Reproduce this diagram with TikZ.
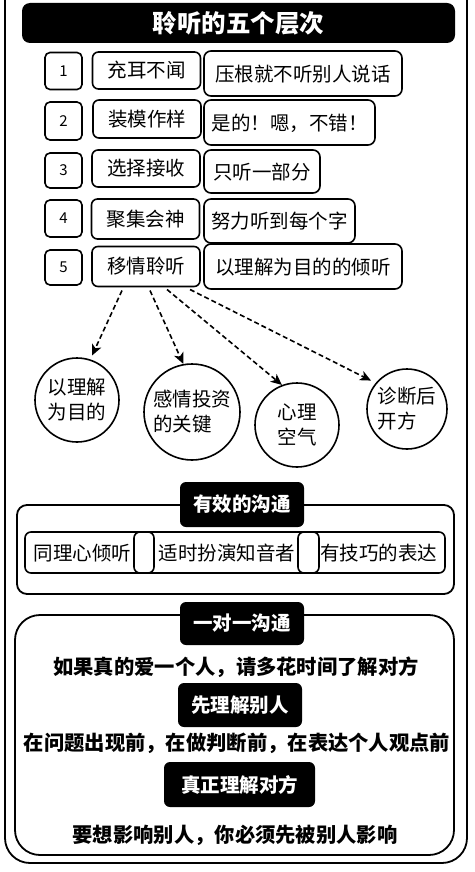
\documentclass[tikz,border=0pt]{standalone}
\usepackage{fontspec}
\setmainfont{Noto Sans CJK SC}
\usetikzlibrary{arrows.meta,calc}
\begin{document}
\begin{tikzpicture}[x=1pt,y=-1pt,
  every node/.style={inner sep=0pt,outer sep=0pt},
  frame/.style={draw=black,line width=1.8pt,rounded corners=#1},
  numbox/.style={draw=black,line width=1.6pt,rounded corners=5pt,minimum width=37pt,font=\fontsize{15}{17}\selectfont},
  namebox/.style={draw=black,line width=1.6pt,rounded corners=6pt,minimum width=108pt,font=\fontsize{19.5}{22}\selectfont},
  descbox/.style={draw=black,line width=1.6pt,rounded corners=7pt,text depth=1pt,font=\fontsize{19.5}{22}\selectfont},
  blackbox/.style={fill=black,text=white,rounded corners=6pt,font=\bfseries\fontsize{19.5}{22}\selectfont},
  bubble/.style={circle,draw=black,line width=1.6pt,align=left,font=\fontsize{19.5}{25}\selectfont},
  plain/.style={font=\fontsize{19.5}{22}\selectfont},
  boldline/.style={font=\bfseries\fontsize{20.3}{22}\selectfont},
  arr/.style={line width=1.6pt,dash pattern=on 5pt off 3pt,-{Stealth[length=11pt,width=10pt,inset=3pt]}}
]
\useasboundingbox (0,0) rectangle (474,872);
\fill[white] (0,0) rectangle (474,872);
% outer frame
\draw[line width=1.8pt,rounded corners=25pt] (5,-2) -- (5,863) -- (467,863) -- (467,-2);
% title
\node[fill=black,rounded corners=8pt,minimum width=433pt,minimum height=40pt,text=white,font=\bfseries\fontsize{24.5}{27}\selectfont] (title) at (238.5,23) {聆听的五个层次};
% rows
\node[numbox,minimum height=37pt] (k1) at (63.5,71) {1};
\node[namebox,minimum height=37pt] (n1) at (146.5,70.5) {充耳不闻};
\node[descbox,minimum width=198pt,minimum height=45pt] (d1) at (303,73.5) {压根就不听别人说话};
\node[numbox,minimum height=38pt] (k2) at (63.5,121) {2};
\node[namebox,minimum height=38pt] (n2) at (147,119) {装模作样};
\node[descbox,minimum width=171pt,minimum height=45pt] (d2) at (289.5,122.5) {是的！嗯，不错！};
\node[numbox,minimum height=35pt] (k3) at (63.5,170.5) {3};
\node[namebox,minimum height=37pt] (n3) at (146,168.5) {选择接收};
\node[descbox,minimum width=116pt,minimum height=43pt] (d3) at (262,171.5) {只听一部分};
\node[numbox,minimum height=37pt] (k4) at (63.5,218.5) {4};
\node[namebox,minimum height=40pt] (n4) at (145.5,219) {聚集会神};
\node[descbox,minimum width=151pt,minimum height=44pt] (d4) at (279.5,221) {努力听到每个字};
\node[numbox,minimum height=35pt] (k5) at (63.5,267.5) {5};
\node[namebox,minimum height=40pt] (n5) at (146,266.5) {移情聆听};
\node[descbox,minimum width=198pt,minimum height=45pt] (d5) at (303,266.5) {以理解为目的的倾听};
% circles
\node[bubble,minimum size=84pt] (c1) at (77,400) {以理解\\为目的};
\node[bubble,minimum size=96pt] (c2) at (192,412) {感情投资\\的关键};
\node[bubble,minimum size=84pt] (c3) at (297,425) {心理\\空气};
\node[bubble,minimum size=80pt] (c4) at (407,409) {诊断后\\开方};
% arrows
\coordinate (s1) at ($(n5.south west)+(30,4)$);
\coordinate (s2) at ($(n5.south west)+(58,4)$);
\coordinate (s3) at ($(n5.south west)+(75,3)$);
\coordinate (s4) at ($(n5.south west)+(98,3)$);
\draw[arr,shorten >=5pt] (s1) -- (c1.72);
\draw[arr,shorten >=1pt] (s2) -- (c2.100);
\draw[arr,shorten >=1pt] (s3) -- (c3.110);
\draw[arr,shorten >=6pt] (s4) -- (c4.140);
% effective communication
\draw[frame=10pt] (17,505) rectangle (454,594);
\draw[line width=1.6pt,rounded corners=6pt,fill=white] (25,532) rectangle (445,573);
\draw[line width=1.6pt,rounded corners=6pt,fill=white] (134,532) rectangle (154,573);
\draw[line width=1.6pt,rounded corners=6pt,fill=white] (298,532) rectangle (319,573);
\node[plain] (e1) at (82.5,553) {同理心倾听};
\node[plain] (e2) at (227,553) {适时扮演知音者};
\node[plain] (e3) at (378.5,553) {有技巧的表达};
\node[blackbox,minimum width=124pt,minimum height=45pt] (t2) at (242,504.5) {有效的沟通};
% one to one
\draw[frame=25pt] (15,615) rectangle (454,855);
\node[blackbox,minimum width=124pt,minimum height=43pt] (t3) at (242,623.5) {一对一沟通};
\node[boldline] (l1) at (236,667) {如果真的爱一个人，请多花时间了解对方};
\node[blackbox,minimum width=124pt,minimum height=44pt] (b1) at (240,705) {先理解别人};
\node[boldline] (l2) at (237,743) {在问题出现前，在做判断前，在表达个人观点前};
\node[blackbox,minimum width=151pt,minimum height=45pt] (b2) at (239.5,784.5) {真正理解对方};
\node[boldline] (l3) at (235,835) {要想影响别人，你必须先被别人影响};
\end{tikzpicture}
\end{document}
